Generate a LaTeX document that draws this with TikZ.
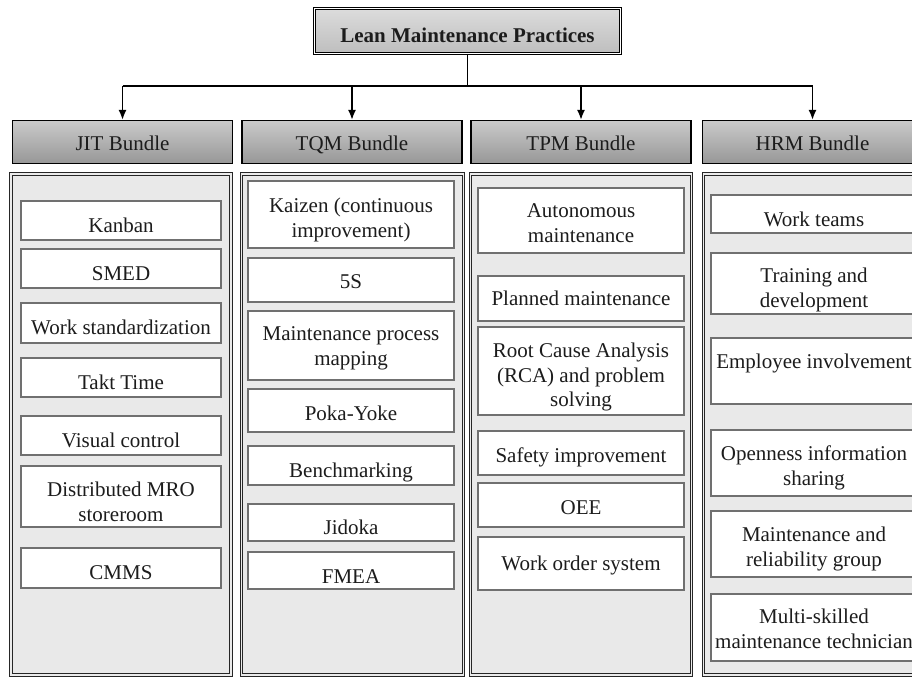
\documentclass[tikz,border=0pt]{standalone}
\usepackage{fontspec}
\setmainfont{Liberation Serif}
\usetikzlibrary{arrows.meta}

\definecolor{inktext}{HTML}{1C1C1C}
\definecolor{paneltint}{HTML}{E9E9E9}
\definecolor{itemrule}{HTML}{707070}
\definecolor{headtop}{HTML}{CACACA}
\definecolor{headbot}{HTML}{979797}
\definecolor{titletop}{HTML}{DCDCDC}
\definecolor{titlebot}{HTML}{BEBEBE}

% one practice box: name, centre x, top, bottom, last baseline, text
\newcommand{\lmitem}[6]{%
  \node[itembox, minimum height={#4-#3}] (#1) at (#2,{(#3+#4)/2}) {};
  \node[itemtext, anchor=base] (#1-t) at (#2,#5) {#6};}

\begin{document}
\begin{tikzpicture}[x=1pt, y=-1pt,
  every node/.style={text=inktext, font=\fontsize{21}{24.5}\selectfont},
  titlebox/.style={draw=black, line width=0.9pt, double=white, double distance=1.7pt,
    top color=titletop, bottom color=titlebot, minimum width=306, minimum height=45,
    inner sep=0pt, text height=22pt, text depth=0pt,
    font=\fontsize{21}{24.5}\selectfont\bfseries},
  headbox/.style={draw=black, line width=1.1pt, top color=headtop, bottom color=headbot,
    minimum width=220, minimum height=43, inner sep=0pt, text height=16pt, text depth=0pt},
  panelbox/.style={draw=black!85, line width=0.9pt, double=white!92!black,
    double distance=1.8pt, fill=paneltint, inner sep=0pt},
  itembox/.style={draw=itemrule, line width=1.7pt, fill=white, minimum width=\colw,
    inner sep=0pt},
  itemtext/.style={align=center, inner sep=0pt},
  link/.style={draw=black, line width=1.8pt},
  arrowlink/.style={link, -{Latex[length=10pt, width=8pt]}},
]
\useasboundingbox (0,0) rectangle (912,678);
\clip (0,0) rectangle (912,678);

% title and the four bundle headers
\node[titlebox] (title) at (467.5,31) {Lean Maintenance Practices};
\node[headbox] (jit) at (122.5,142) {JIT Bundle};
\node[headbox] (tqm) at (352,142) {TQM Bundle};
\node[headbox] (tpm) at (581,142) {TPM Bundle};
\node[headbox] (hrm) at (812.5,142) {HRM Bundle};

% bundle panels
\node[panelbox, minimum width=220, minimum height=501] (jitpanel) at (121,424.5) {};
\node[panelbox, minimum width=222, minimum height=501] (tqmpanel) at (352.5,424.5) {};
\node[panelbox, minimum width=221, minimum height=501] (tpmpanel) at (581,424.5) {};
\node[panelbox, minimum width=221, minimum height=501] (hrmpanel) at (814,424.5) {};

% connectors
\coordinate (bus) at (title.south |- 0,86);
\draw[link] (title.south) -- (bus);
\draw[link] (jit.north |- bus) -- (hrm.north |- bus);
\foreach \h in {jit,tqm,tpm,hrm}
  \draw[arrowlink] (\h.north |- bus) -- (\h.north);

% JIT bundle
\def\colw{200}
\lmitem{kanban}{121}{201}{240}{232}{Kanban}
\lmitem{smed}{121}{249}{288}{280}{SMED}
\lmitem{workstd}{121}{303}{343}{334}{Work standardization}
\lmitem{takt}{121}{358}{397}{389}{Takt Time}
\lmitem{visual}{121}{416}{455}{447}{Visual control}
\lmitem{mro}{121}{466}{527}{521}{Distributed MRO\\storeroom}
\lmitem{cmms}{121}{548}{588}{579}{CMMS}

% TQM bundle
\def\colw{206}
\lmitem{kaizen}{351}{181}{248}{237}{Kaizen (continuous\\improvement)}
\lmitem{fives}{351}{258}{302}{288}{5S}
\lmitem{mapping}{351}{311}{380}{365}{Maintenance process\\mapping}
\lmitem{pokayoke}{351}{389}{432}{420}{Poka-Yoke}
\lmitem{bench}{351}{446}{485}{477}{Benchmarking}
\lmitem{jidoka}{351}{504}{541}{534}{Jidoka}
\lmitem{fmea}{351}{552}{589}{583}{FMEA}

% TPM bundle
\lmitem{autonomous}{581}{188}{253}{242}{Autonomous\\maintenance}
\lmitem{planned}{581}{276}{321}{305}{Planned maintenance}
\lmitem{rca}{581}{327}{415}{406.5}{Root Cause Analysis\\(RCA) and problem\\solving}
\lmitem{safety}{581}{431}{475}{462}{Safety improvement}
\lmitem{oee}{581}{483}{527}{514}{OEE}
\lmitem{workorder}{581}{537}{590}{570}{Work order system}

% HRM bundle
\lmitem{teams}{814}{195}{233}{226}{Work teams}
\lmitem{training}{814}{253}{314}{307}{Training and\\development}
\lmitem{involve}{814}{338}{404}{368}{Employee involvement}
\lmitem{openness}{814}{430}{496}{485}{Openness information\\sharing}
\lmitem{reliab}{814}{511}{577}{566}{Maintenance and\\reliability group}
\lmitem{multiskill}{814}{594}{661}{648}{Multi-skilled\\maintenance technician}
\end{tikzpicture}
\end{document}
